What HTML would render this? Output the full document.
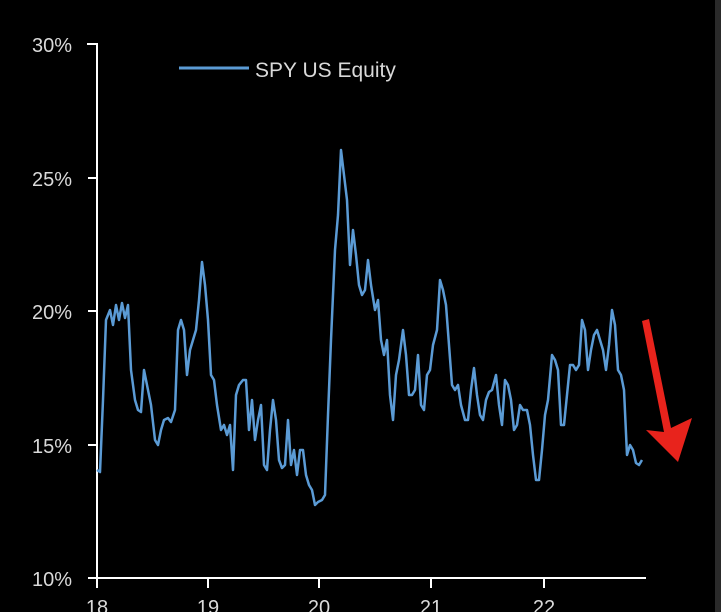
<!DOCTYPE html>
<html><head><style>
html,body{margin:0;padding:0;background:#000;width:721px;height:612px;overflow:hidden}
svg text{font-family:"Liberation Sans",sans-serif}
</style></head><body>
<svg width="721" height="612" xmlns="http://www.w3.org/2000/svg">
<rect width="721" height="612" fill="#000"/>
<rect x="715" y="0" width="6" height="612" fill="#2a2a2a"/>
<g stroke="#fff" stroke-width="2" fill="none">
<path d="M87,44 H97 V578"/>
<path d="M88,578 H646"/>
<path d="M88,311 H97 M88,445 H97 M88,178 H97"/>
<path d="M97,578 V588 M208,578 V588 M319,578 V588 M431,578 V588 M544,578 V588"/>
</g>
<g fill="#d9d9d9" font-size="20" text-anchor="end">
<text x="72" y="52">30%</text>
<text x="72" y="186">25%</text>
<text x="72" y="319">20%</text>
<text x="72" y="453">15%</text>
<text x="72" y="586">10%</text>
</g>
<g fill="#d9d9d9" font-size="20" text-anchor="middle">
<text x="97" y="614">18</text><text x="208" y="614">19</text><text x="319" y="614">20</text><text x="431" y="614">21</text><text x="544" y="614">22</text>
</g>
<line x1="179" y1="68" x2="249" y2="68" stroke="#5b9bd5" stroke-width="3"/>
<text x="255" y="77" fill="#d9d9d9" font-size="21">SPY US Equity</text>
<polyline fill="none" stroke="#5b9bd5" stroke-width="2.5" stroke-linejoin="round" points="97,470 100,472 103,400 106,320 110,310 113,325 116,305 119,320 122,303 125,318 128,305 131,370 135,400 138,410 141,412 144,370 148,390 151,405 155,440 158,445 161,430 164,420 168,418 171,422 175,410 178,330 181,320 184,330 187,375 190,350 193,340 196,330 199,300 202,262 205,285 208,320 211,375 214,380 217,405 221,430 224,425 227,435 230,425 233,470 236,395 239,385 243,380 246,380 249,430 252,400 255,440 258,420 261,405 264,465 267,470 270,430 273,400 276,420 279,460 282,468 285,465 288,420 291,465 294,450 297,475 300,450 303,450 306,475 309,485 312,490 315,505 318,502 322,500 325,495 328,415 331,340 335,250 338,215 341,150 344,175 347,200 350,265 353,230 356,255 359,285 362,295 365,290 368,260 371,285 375,310 378,300 381,340 384,355 387,340 390,395 393,420 396,375 399,360 403,330 406,355 409,395 412,395 415,390 418,355 421,405 424,410 427,375 430,370 433,345 437,330 440,280 443,290 446,305 449,345 452,385 455,390 458,385 461,405 465,420 468,420 471,390 474,368 477,395 480,415 483,420 486,400 489,392 492,390 496,375 499,405 502,425 505,380 508,385 511,400 514,430 517,425 520,405 523,410 527,410 530,425 533,455 536,480 539,480 542,450 545,415 548,400 552,355 555,360 558,370 561,425 564,425 567,395 570,365 573,365 576,370 579,365 582,320 585,330 588,370 591,350 594,335 597,330 600,340 603,350 606,370 609,345 612,310 615,325 618,370 621,375 624,390 627,455 630,445 633,450 636,463 639,465 642,460"/>
<polygon fill="#e8231c" points="642,321 649,319 671,428 692,418 678,462 646,430 664,432"/>
</svg>
</body></html>
